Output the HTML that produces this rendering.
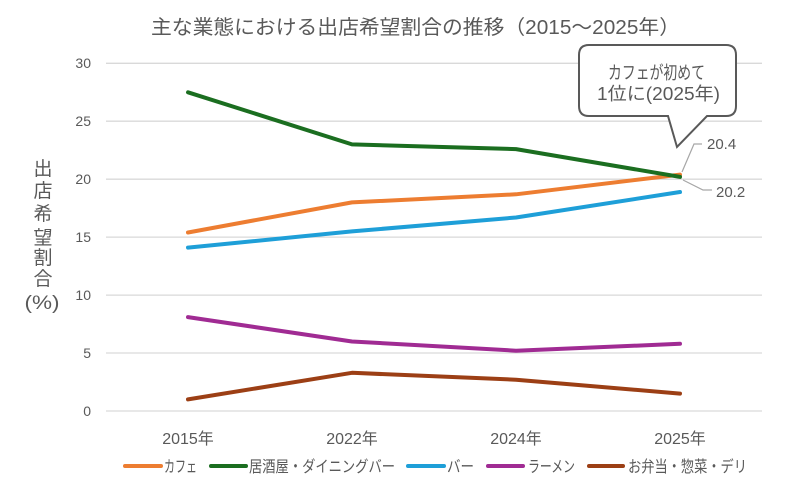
<!DOCTYPE html>
<html><head><meta charset="utf-8"><style>
html,body{margin:0;padding:0;background:#fff;}
svg{display:block;}
text{font-family:"Liberation Sans","Noto Sans CJK JP",sans-serif;fill:#595959;}
</style></head><body>
<svg width="802" height="500" viewBox="0 0 802 500" xmlns="http://www.w3.org/2000/svg">
<rect width="802" height="500" fill="#fff"/>
<text x="151" y="34" font-size="20" textLength="529" lengthAdjust="spacingAndGlyphs">主な業態における出店希望割合の推移（2015～2025年）</text>
<g stroke="#d9d9d9" stroke-width="1.3">
<line x1="106" y1="63.3" x2="762" y2="63.3"/>
<line x1="106" y1="121.2" x2="762" y2="121.2"/>
<line x1="106" y1="179.2" x2="762" y2="179.2"/>
<line x1="106" y1="237.1" x2="762" y2="237.1"/>
<line x1="106" y1="295.1" x2="762" y2="295.1"/>
<line x1="106" y1="353" x2="762" y2="353"/>
<line x1="106" y1="411" x2="762" y2="411"/>
</g>
<g font-size="14" text-anchor="end">
<text x="91" y="68">30</text>
<text x="91" y="126">25</text>
<text x="91" y="184">20</text>
<text x="91" y="242">15</text>
<text x="91" y="300">10</text>
<text x="91" y="358">5</text>
<text x="91" y="416">0</text>
</g>
<g font-size="19" text-anchor="middle">
<text x="43" y="175">出</text>
<text x="43" y="197">店</text>
<text x="43" y="220">希</text>
<text x="43" y="244">望</text>
<text x="43" y="264">割</text>
<text x="43" y="285">合</text>
<text x="42" y="309" textLength="35" lengthAdjust="spacingAndGlyphs">(%)</text>
</g>
<g font-size="16" text-anchor="middle">
<text x="188" y="444">2015年</text>
<text x="352" y="444">2022年</text>
<text x="516" y="444">2024年</text>
<text x="680" y="444">2025年</text>
</g>
<g fill="none" stroke-width="4" stroke-linecap="round" stroke-linejoin="round">
<polyline stroke="#9C3F15" points="188,399.4 352,372.8 516,379.7 680,393.6"/>
<polyline stroke="#A02B93" points="188,317.1 352,341.5 516,350.7 680,343.8"/>
<polyline stroke="#1E9FD8" points="188,247.6 352,231.4 516,217.5 680,192"/>
<polyline stroke="#ED7D31" points="188,232.5 352,202.4 516,194.3 680,174.6"/>
<polyline stroke="#1B6E20" points="188,92.3 352,144.4 516,149.1 680,176.9"/>
</g>
<g fill="none" stroke="#a6a6a6" stroke-width="1.2">
<polyline points="682,172 694,144 702,144"/>
<polyline points="683,180 703,190 712,190"/>
</g>
<text x="707" y="149" font-size="15" fill="#404040">20.4</text>
<text x="716" y="197" font-size="15" fill="#404040">20.2</text>
<path d="M589,45 H726 Q736,45 736,55 V106 Q736,116 726,116 H707 L677,147 L668,116 H589 Q579,116 579,106 V55 Q579,45 589,45 Z" fill="#fff" stroke="#595959" stroke-width="2"/>
<g font-size="18">
<text x="608" y="79" textLength="97" lengthAdjust="spacingAndGlyphs">カフェが初めて</text>
<text x="597" y="100" textLength="123" lengthAdjust="spacingAndGlyphs">1位に(2025年)</text>
</g>
<g stroke-width="4" stroke-linecap="round">
<line x1="125" y1="466" x2="161" y2="466" stroke="#ED7D31"/>
<line x1="211" y1="466" x2="246" y2="466" stroke="#1B6E20"/>
<line x1="408" y1="466" x2="444" y2="466" stroke="#1E9FD8"/>
<line x1="488" y1="466" x2="523" y2="466" stroke="#A02B93"/>
<line x1="589" y1="466" x2="623" y2="466" stroke="#9C3F15"/>
</g>
<g font-size="16">
<text x="164" y="472" textLength="33" lengthAdjust="spacingAndGlyphs">カフェ</text>
<text x="249" y="472" textLength="146" lengthAdjust="spacingAndGlyphs">居酒屋・ダイニングバー</text>
<text x="447" y="472" textLength="27" lengthAdjust="spacingAndGlyphs">バー</text>
<text x="528" y="472" textLength="47" lengthAdjust="spacingAndGlyphs">ラーメン</text>
<text x="628" y="472" textLength="119" lengthAdjust="spacingAndGlyphs">お弁当・惣菜・デリ</text>
</g>
</svg>
</body></html>
